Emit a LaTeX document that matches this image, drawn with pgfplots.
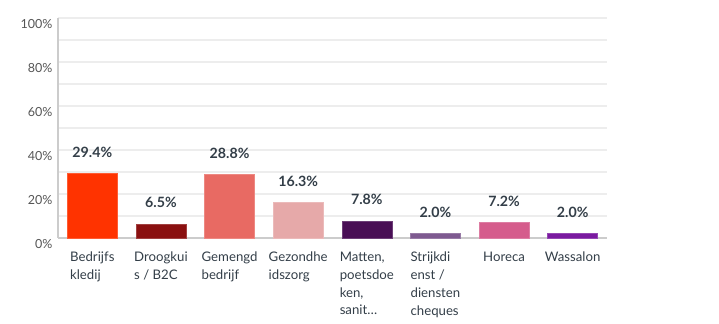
\documentclass[border=0pt]{standalone}
\usepackage{pgfplots}
\pgfplotsset{compat=1.18}
\usepackage{fontspec}
\setmainfont{Lato}
\definecolor{c1}{HTML}{FF3300}
\definecolor{c2}{HTML}{8A1010}
\definecolor{c3}{HTML}{E86A63}
\definecolor{c4}{HTML}{E6A9A9}
\definecolor{c5}{HTML}{490E55}
\definecolor{c6}{HTML}{7E5A90}
\definecolor{c7}{HTML}{D55C8C}
\definecolor{c8}{HTML}{7A1AA0}
\definecolor{txt}{HTML}{333E48}
\definecolor{ticktxt}{HTML}{555555}
\begin{document}
\begin{tikzpicture}
\useasboundingbox (0,0) rectangle (719bp,324bp);
\begin{axis}[
  at={(58bp,86bp)}, anchor=south west,
  scale only axis, width=549bp, height=220bp,
  xmin=-0.5, xmax=7.5, ymin=0, ymax=100,
  axis x line=bottom, axis y line=left,
  axis line style={draw=black!20, line width=1.5bp, -},
  xtick={0,...,7},
  xticklabels={{Bedrijfs\\kledij},{Droogkui\\s / B2C},{Gemengd\\bedrijf},{Gezondhe\\idszorg},{Matten,\\poetsdoe\\ken,\\sanit…},{Strijkdi\\enst /\\diensten\\cheques},{Horeca},{Wassalon}},
  xticklabel style={align=left, anchor=north, inner sep=0pt, yshift=-14bp, font=\fontsize{13.2bp}{17.7bp}\selectfont, text=txt},
  ytick={0,20,40,60,80,100},
  yticklabels={0\%,20\%,40\%,60\%,80\%,100\%},
  minor ytick={10,30,50,70,90},
  yticklabel style={font=\fontsize{12.5bp}{15bp}\selectfont, text=ticktxt, yshift=-6bp, xshift=-2bp},
  major tick length=0pt, minor tick length=0pt,
  ymajorgrids, yminorgrids,
  major grid style={draw=black!7, line width=1.2bp},
  minor grid style={draw=black!7, line width=1.2bp},
  ybar, bar width=50bp, bar shift=0pt,
  nodes near coords={\pgfmathprintnumber[fixed,fixed zerofill,precision=1,assume math mode=true]{\pgfplotspointmeta}\%},
  nodes near coords style={anchor=base, inner sep=0pt, yshift=16bp, font=\fontsize{14.2bp}{16bp}\selectfont\bfseries, text=txt},
  clip=false,
]
\addplot[fill=c1, draw=c1!80!white] coordinates {(0,29.4)};
\addplot[fill=c2, draw=c2!80!white] coordinates {(1,6.5)};
\addplot[fill=c3, draw=c3!80!white] coordinates {(2,28.8)};
\addplot[fill=c4, draw=c4!80!white] coordinates {(3,16.3)};
\addplot[fill=c5, draw=c5!80!white] coordinates {(4,7.8)};
\addplot[fill=c6, draw=c6!80!white] coordinates {(5,2.0)};
\addplot[fill=c7, draw=c7!80!white] coordinates {(6,7.2)};
\addplot[fill=c8, draw=c8!80!white] coordinates {(7,2.0)};
\end{axis}
\end{tikzpicture}
\end{document}
